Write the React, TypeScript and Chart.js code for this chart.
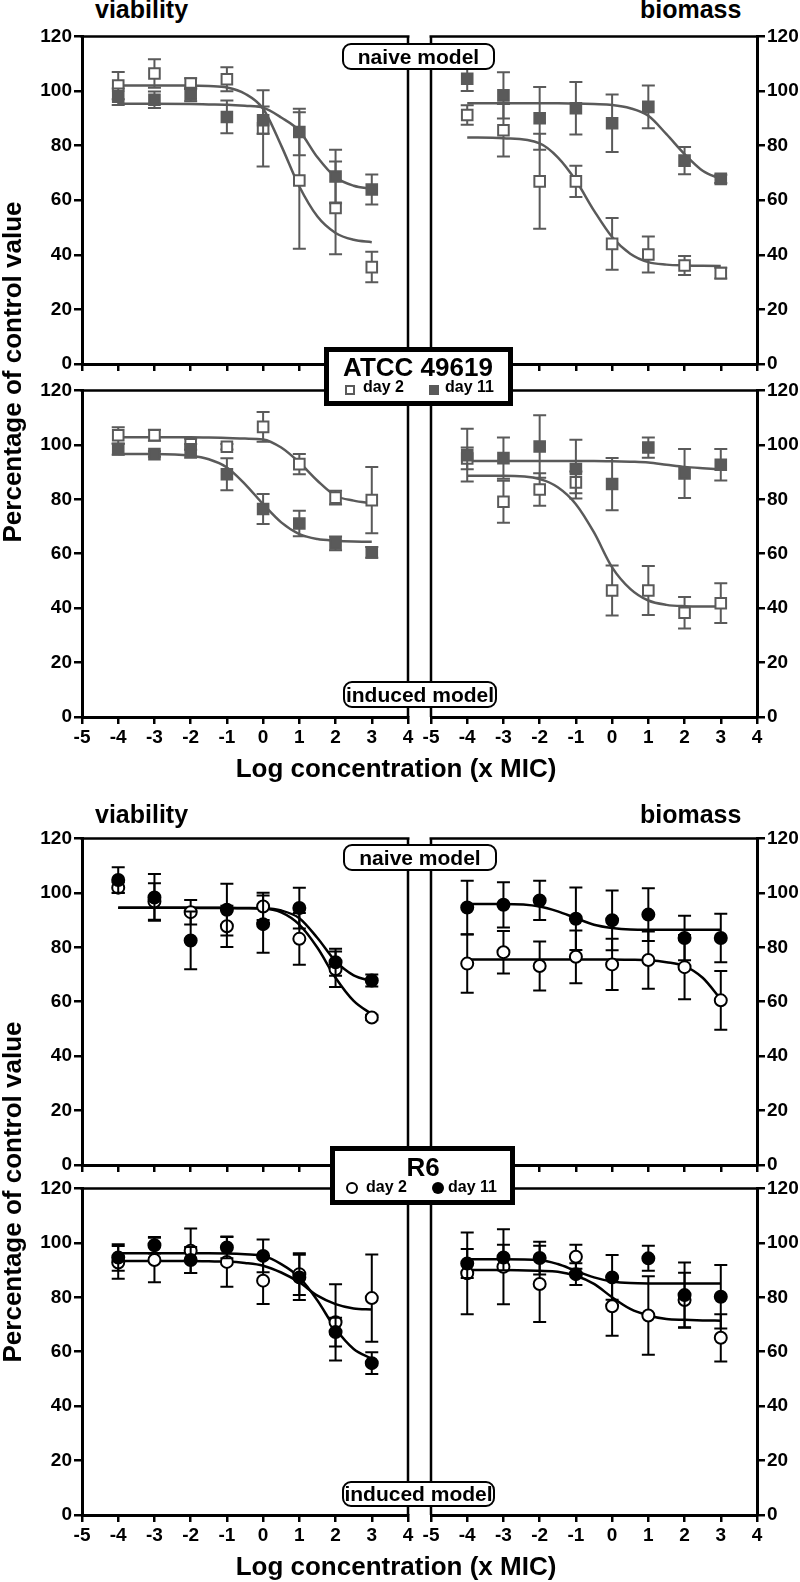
import React, { useEffect, useRef } from "react";
import { Chart, registerables } from "chart.js";

Chart.register(...registerables);

const FONT = "'Liberation Sans', Arial, Helvetica, sans-serif";

// concentrations (log x MIC) of the measured points
const doses = [-4, -3, -2, -1, 0, 1, 2, 3];
const curveX = [-4, -3, -2, -1.5, -1, -0.5, 0, 0.5, 1, 1.5, 2, 2.5, 3];

const xMin = -5;
const xMax = 4;
const yMin = 0;
const yMax = 120;
const yStep = 20;

const GREY = "#5a5a5a";
const BLACK = "#000000";

// ---------- ATCC 49619 ----------
// viability, naive model
const atccViaNaiveDay2 = [102, 106.4, 102.7, 104.3, 86.3, 67.2, 57.2, 35.5];
const atccViaNaiveDay2Err = [5, 5.2, 2, 4.4, 14, 25, 17, 5.6];
const atccViaNaiveDay11 = [97.9, 96.8, 98.7, 90.5, 89.3, 85, 68.7, 63.9];
const atccViaNaiveDay11Err = [3, 3, 2.5, 6, 5, 8.5, 9.8, 5.5];
const atccViaNaiveFit2 = [102, 102, 102, 101.8, 101.3, 99, 93.5, 80, 65, 54, 48, 45.5, 44.6];
const atccViaNaiveFit11 = [95.3, 95.3, 95.2, 95.1, 95, 94.6, 93.9, 90.3, 85.4, 75.7, 68.4, 65.3, 64.1];

// viability, induced model
const atccViaIndDay2 = [103.5, 103.5, 100.2, 99.3, 106.6, 92.9, 80.6, 79.7];
const atccViaIndDay2Err = [3, 2, 2, 1, 5.5, 3.7, 2.5, 12.2];
const atccViaIndDay11 = [98.4, 96.6, 97.8, 89.2, 76.4, 71.1, 63.8, 60.5];
const atccViaIndDay11Err = [2, 1, 2.5, 5.9, 5.5, 4.7, 2.5, 2];
const atccViaIndFit2 = [102.8, 102.8, 102.8, 102.7, 102.5, 102.3, 102, 99, 93.5, 86.8, 81.3, 79.5, 78.5];
const atccViaIndFit11 = [96.6, 96.6, 96, 94.7, 91.7, 85.6, 78.2, 71.5, 67.2, 65.4, 64.8, 64.5, 64.4];

// biomass, naive model
const atccBioNaiveDay2 = [91.2, 85.6, 66.9, 66.9, 44, 40.1, 36.1, 33.3];
const atccBioNaiveDay2Err = [3.6, 9.6, 17.4, 5.7, 9.5, 6.6, 3.5, 2];
const atccBioNaiveDay11 = [104.5, 98.4, 90, 93.7, 88.2, 94.2, 74.5, 67.8];
const atccBioNaiveDay11Err = [4.5, 8.5, 11.5, 9.6, 10.5, 7.8, 5, 1.5];
const atccBioNaiveFit2 = [83, 82.7, 80.8, 75.7, 67.2, 56.2, 46.5, 40.4, 37.3, 36.4, 36.1, 36, 35.9];
const atccBioNaiveFit11 = [95.5, 95.5, 95.5, 95.5, 95.4, 95.2, 94.9, 93.7, 90.9, 84.2, 76.9, 70.8, 67.8];

// biomass, induced model
const atccBioIndDay2 = [95, 79.1, 83.6, 86.2, 46.5, 46.5, 38.3, 41.8];
const atccBioIndDay2Err = [4, 7.7, 6, 4, 9.2, 9, 5.8, 7.3];
const atccBioIndDay11 = [96.2, 95.1, 99.4, 91.1, 85.6, 99, 89.5, 92.7];
const atccBioIndDay11Err = [9.7, 7.6, 11.5, 10.8, 9.6, 3.7, 9, 5.8];
const atccBioIndFit2 = [88.6, 88.6, 87.4, 84.4, 78.2, 67.8, 55, 47.1, 42.8, 41.2, 40.7, 40.6, 40.6];
const atccBioIndFit11 = [94.1, 94.1, 94.1, 94.1, 94.1, 94.1, 94, 93.8, 93.5, 92.7, 91.9, 91.4, 91];

// ---------- R6 ----------
// viability, naive model
const r6ViaNaiveDay2 = [101.9, 96.8, 92.9, 87.7, 95, 83.1, 71.9, 54.2];
const r6ViaNaiveDay2Err = [2, 6.7, 4.5, 7.6, 5, 9.5, 6.5, 1];
const r6ViaNaiveDay11 = [104.7, 98.3, 82.5, 93.8, 88.5, 94.4, 74.5, 67.8];
const r6ViaNaiveDay11Err = [4.7, 8.6, 10.6, 9.5, 10.5, 7.5, 5, 2.2];
const r6ViaNaiveFit2 = [94.5, 94.5, 94.5, 94.4, 94.4, 94.3, 94.2, 92.8, 88.3, 79.8, 68.8, 60.3, 55.4];
const r6ViaNaiveFit11 = [94.5, 94.5, 94.5, 94.5, 94.5, 94.4, 94.3, 93.5, 90.7, 83.4, 74.9, 69.7, 67.6];

// viability, induced model
const r6ViaIndDay2 = [92.8, 93.7, 97.1, 93, 86.1, 88.5, 70.8, 79.7];
const r6ViaIndDay2Err = [6, 8.2, 8.2, 9.1, 8.6, 7.7, 14, 16];
const r6ViaIndDay11 = [94.6, 99.1, 93.7, 98.3, 95.2, 87.3, 67.2, 55.8];
const r6ViaIndDay11Err = [4.9, 3, 4.8, 4, 6, 8.3, 5.3, 4];
const r6ViaIndFit2 = [93.3, 93.3, 93.3, 93.2, 93.1, 92.6, 91.6, 89.1, 85.5, 80.6, 77.5, 75.9, 75.5];
const r6ViaIndFit11 = [96.2, 96.2, 96.2, 96.2, 96.1, 95.8, 95.2, 92.2, 87.3, 78.8, 68.4, 61, 57.4];

// biomass, naive model
const r6BioNaiveDay2 = [74, 78.2, 73.1, 76.5, 73.7, 75.3, 72.7, 60.5];
const r6BioNaiveDay2Err = [10.7, 7.8, 9, 9.7, 9.4, 10.5, 11.8, 10.8];
const r6BioNaiveDay11 = [94.6, 95.6, 97.2, 90.5, 89.9, 92, 83.4, 83.4];
const r6BioNaiveDay11Err = [9.8, 8.3, 7.2, 11.5, 11, 9.7, 8.2, 8.9];
const r6BioNaiveFit2 = [75.5, 75.5, 75.5, 75.5, 75.5, 75.5, 75.5, 75.4, 75.2, 74.5, 73.1, 68.8, 60.9];
const r6BioNaiveFit11 = [95.9, 95.9, 95, 93.2, 90.7, 88.3, 87.1, 86.5, 86.4, 86.4, 86.4, 86.4, 86.4];

// biomass, induced model
const r6BioIndDay2 = [88.8, 91.2, 84.9, 94.9, 76.7, 73.3, 79, 65.1];
const r6BioIndDay2Err = [15, 13.8, 14, 4.4, 10.8, 14.4, 10, 8.7];
const r6BioIndDay11 = [92.4, 94.6, 94.4, 88.5, 87.3, 94.3, 80.8, 80.2];
const r6BioIndDay11Err = [5.3, 4.7, 6, 4, 8.2, 4.6, 12, 11.7];
const r6BioIndFit2 = [90, 90, 89.7, 89.4, 87.9, 84.9, 80, 75.7, 73.3, 72, 71.7, 71.5, 71.4];
const r6BioIndFit11 = [94, 94, 93.7, 92.2, 89.7, 87.3, 85.8, 85.2, 85.1, 85.1, 85.1, 85.1, 85.1];

type PanelProps = {
  side: "left" | "right";
  top: number;
  bottom: number;
  below: number;
  showX: boolean;
  color: string;
  marker: "rect" | "circle";
  d2: number[];
  e2: number[];
  d11: number[];
  e11: number[];
  f2: number[];
  f11: number[];
};

function Panel(p: PanelProps) {
  const ref = useRef<HTMLCanvasElement>(null);
  const isLeft = p.side === "left";
  const padTop = 12;
  const cLeft = isLeft ? 0 : 420;
  const cW = isLeft ? 420 : 380;
  const cTop = p.top - padTop;
  const cH = p.bottom - p.top + padTop + p.below;

  useEffect(() => {
    if (!ref.current) return;
    const frame = {
      id: "frame",
      afterDraw(chart: any) {
        const { ctx, chartArea: a } = chart;
        ctx.save();
        ctx.strokeStyle = "#000";
        ctx.lineWidth = 2.5;
        ctx.beginPath();
        ctx.moveTo(a.left - 1.5, a.top);
        ctx.lineTo(a.right + 1.5, a.top);
        const sx = isLeft ? a.right : a.left;
        ctx.moveTo(sx, a.top - 1.2);
        ctx.lineTo(sx, p.showX ? a.bottom : chart.height);
        ctx.stroke();
        ctx.restore();
      },
    };
    const errs = {
      id: "errs",
      beforeDatasetDraw(chart: any, args: any) {
        const ds: any = chart.data.datasets[args.index];
        if (!ds.errors) return;
        const xs = chart.scales.x;
        const ys = chart.scales.y;
        const ctx = chart.ctx;
        ctx.save();
        ctx.strokeStyle = ds.borderColor;
        ctx.lineWidth = 2;
        ds.data.forEach((pt: any, i: number) => {
          const e = ds.errors[i];
          if (!e) return;
          const px = xs.getPixelForValue(pt.x);
          const yt = ys.getPixelForValue(pt.y + e);
          const yb = ys.getPixelForValue(pt.y - e);
          ctx.beginPath();
          ctx.moveTo(px, yt);
          ctx.lineTo(px, yb);
          ctx.moveTo(px - 6.5, yt);
          ctx.lineTo(px + 6.5, yt);
          ctx.moveTo(px - 6.5, yb);
          ctx.lineTo(px + 6.5, yb);
          ctx.stroke();
        });
        ctx.restore();
      },
    };
    const radius = p.marker === "rect" ? 7.5 : 6;
    const tickFont = { family: FONT, size: 19, weight: "bold" as const };
    const chart = new Chart(ref.current, {
      type: "line",
      data: {
        datasets: [
          {
            data: curveX.map((x, i) => ({ x, y: p.f2[i] })),
            borderColor: p.color,
            borderWidth: 2.5,
            pointRadius: 0,
            cubicInterpolationMode: "monotone",
            fill: false,
            order: 3,
          },
          {
            data: curveX.map((x, i) => ({ x, y: p.f11[i] })),
            borderColor: p.color,
            borderWidth: 2.5,
            pointRadius: 0,
            cubicInterpolationMode: "monotone",
            fill: false,
            order: 3,
          },
          {
            data: doses.map((x, i) => ({ x, y: p.d2[i] })),
            showLine: false,
            pointStyle: p.marker,
            pointRadius: radius,
            backgroundColor: "#ffffff",
            borderColor: p.color,
            borderWidth: 2,
            errors: p.e2,
            order: 1,
          } as any,
          {
            data: doses.map((x, i) => ({ x, y: p.d11[i] })),
            showLine: false,
            pointStyle: p.marker,
            pointRadius: radius,
            backgroundColor: p.color,
            borderColor: p.color,
            borderWidth: 2,
            errors: p.e11,
            order: 0,
          } as any,
        ],
      },
      options: {
        animation: false,
        responsive: false,
        devicePixelRatio: 1,
        events: [],
        layout: {
          padding: { top: padTop, bottom: 0, left: isLeft ? 0 : 11, right: isLeft ? 12 : 0 },
        },
        plugins: {
          legend: { display: false },
          tooltip: { enabled: false },
        },
        scales: {
          x: {
            type: "linear",
            min: xMin,
            max: xMax,
            position: "bottom",
            afterFit: (s: any) => {
              s.height = p.below;
            },
            ticks: {
              stepSize: 1,
              display: p.showX,
              color: "#000",
              font: tickFont,
              padding: 2,
              maxRotation: 0,
              autoSkip: false,
              callback: (v: any) => String(v),
            },
            grid: { drawOnChartArea: false, drawTicks: true, tickLength: 7, color: "#000", lineWidth: 2.5 },
            border: { display: true, color: "#000", width: 3 },
          },
          y: {
            type: "linear",
            min: yMin,
            max: yMax,
            position: isLeft ? "left" : "right",
            afterFit: (s: any) => {
              s.width = isLeft ? 82 : 43;
            },
            ticks: {
              stepSize: yStep,
              color: "#000",
              font: tickFont,
              padding: 2,
              callback: (v: any) => String(v),
            },
            grid: { drawOnChartArea: false, drawTicks: true, tickLength: 8, color: "#000", lineWidth: 2.5 },
            border: { display: true, color: "#000", width: 3 },
          },
        },
      } as any,
      plugins: [frame, errs],
    });
    return () => chart.destroy();
  }, []);

  return (
    <canvas
      ref={ref}
      width={cW}
      height={cH}
      style={{ position: "absolute", left: cLeft, top: cTop, width: cW, height: cH }}
    />
  );
}

function Txt(props: { x: number; baseline: number; size: number; center?: boolean; children: React.ReactNode }) {
  const top = props.baseline - 0.8465 * props.size;
  const style: React.CSSProperties = {
    position: "absolute",
    top,
    fontSize: props.size,
    lineHeight: props.size + "px",
    fontWeight: "bold",
    whiteSpace: "nowrap",
    fontFamily: FONT,
  };
  if (props.center) {
    style.left = props.x - 300;
    style.width = 600;
    style.textAlign = "center";
  } else {
    style.left = props.x;
  }
  return <div style={style}>{props.children}</div>;
}

function ModelBox(props: { left: number; top: number; w: number; h: number; label: string }) {
  return (
    <div
      style={{
        position: "absolute",
        left: props.left,
        top: props.top,
        width: props.w,
        height: props.h,
        boxSizing: "border-box",
        border: "2px solid #000",
        borderRadius: 9,
        background: "#fff",
        textAlign: "center",
        fontFamily: FONT,
        fontWeight: "bold",
        fontSize: 21,
        lineHeight: props.h - 4 + "px",
        whiteSpace: "nowrap",
      }}
    >
      {props.label}
    </div>
  );
}

function YTitle(props: { cx: number; cy: number }) {
  const w = 420;
  const fs = 26;
  return (
    <div
      style={{
        position: "absolute",
        left: props.cx - w / 2,
        top: props.cy - fs / 2,
        width: w,
        height: fs,
        lineHeight: fs + "px",
        fontSize: fs,
        fontWeight: "bold",
        fontFamily: FONT,
        textAlign: "center",
        whiteSpace: "nowrap",
        transform: "rotate(-90deg)",
        transformOrigin: "50% 50%",
      }}
    >
      Percentage of control value
    </div>
  );
}

export default function App() {
  return (
    <div
      style={{
        position: "absolute",
        left: 0,
        top: 0,
        width: 800,
        height: 1582,
        background: "#fff",
        overflow: "hidden",
        color: "#000",
        fontFamily: FONT,
      }}
    >
      {/* ATCC 49619 block */}
      <Panel side="left" top={35} bottom={364} below={25} showX={false} color={GREY} marker="rect"
        d2={atccViaNaiveDay2} e2={atccViaNaiveDay2Err} d11={atccViaNaiveDay11} e11={atccViaNaiveDay11Err}
        f2={atccViaNaiveFit2} f11={atccViaNaiveFit11} />
      <Panel side="right" top={35} bottom={364} below={25} showX={false} color={GREY} marker="rect"
        d2={atccBioNaiveDay2} e2={atccBioNaiveDay2Err} d11={atccBioNaiveDay11} e11={atccBioNaiveDay11Err}
        f2={atccBioNaiveFit2} f11={atccBioNaiveFit11} />
      <Panel side="left" top={389} bottom={717} below={40} showX={true} color={GREY} marker="rect"
        d2={atccViaIndDay2} e2={atccViaIndDay2Err} d11={atccViaIndDay11} e11={atccViaIndDay11Err}
        f2={atccViaIndFit2} f11={atccViaIndFit11} />
      <Panel side="right" top={389} bottom={717} below={40} showX={true} color={GREY} marker="rect"
        d2={atccBioIndDay2} e2={atccBioIndDay2Err} d11={atccBioIndDay11} e11={atccBioIndDay11Err}
        f2={atccBioIndFit2} f11={atccBioIndFit11} />

      {/* R6 block */}
      <Panel side="left" top={837} bottom={1165} below={22} showX={false} color={BLACK} marker="circle"
        d2={r6ViaNaiveDay2} e2={r6ViaNaiveDay2Err} d11={r6ViaNaiveDay11} e11={r6ViaNaiveDay11Err}
        f2={r6ViaNaiveFit2} f11={r6ViaNaiveFit11} />
      <Panel side="right" top={837} bottom={1165} below={22} showX={false} color={BLACK} marker="circle"
        d2={r6BioNaiveDay2} e2={r6BioNaiveDay2Err} d11={r6BioNaiveDay11} e11={r6BioNaiveDay11Err}
        f2={r6BioNaiveFit2} f11={r6BioNaiveFit11} />
      <Panel side="left" top={1187} bottom={1515} below={40} showX={true} color={BLACK} marker="circle"
        d2={r6ViaIndDay2} e2={r6ViaIndDay2Err} d11={r6ViaIndDay11} e11={r6ViaIndDay11Err}
        f2={r6ViaIndFit2} f11={r6ViaIndFit11} />
      <Panel side="right" top={1187} bottom={1515} below={40} showX={true} color={BLACK} marker="circle"
        d2={r6BioIndDay2} e2={r6BioIndDay2Err} d11={r6BioIndDay11} e11={r6BioIndDay11Err}
        f2={r6BioIndFit2} f11={r6BioIndFit11} />

      {/* titles */}
      <Txt x={95} baseline={18} size={25}>viability</Txt>
      <Txt x={640} baseline={18} size={25}>biomass</Txt>
      <Txt x={95} baseline={823} size={25}>viability</Txt>
      <Txt x={640} baseline={823} size={25}>biomass</Txt>
      <Txt x={396} baseline={777} size={26} center>Log concentration (x MIC)</Txt>
      <Txt x={396} baseline={1575} size={26} center>Log concentration (x MIC)</Txt>
      <YTitle cx={12} cy={372} />
      <YTitle cx={12} cy={1192} />

      {/* model boxes */}
      <ModelBox left={342} top={43} w={153} h={27} label="naive model" />
      <ModelBox left={343} top={681} w={154} h={27} label="induced model" />
      <ModelBox left={343} top={844} w={154} h={27} label="naive model" />
      <ModelBox left={342} top={1481} w={153} h={26} label="induced model" />

      {/* ATCC legend */}
      <div style={{ position: "absolute", left: 324, top: 347, width: 189, height: 59, boxSizing: "border-box", border: "5px solid #000", background: "#fff" }} />
      <Txt x={418} baseline={376} size={26} center>ATCC 49619</Txt>
      <div style={{ position: "absolute", left: 345, top: 385, width: 10, height: 10, boxSizing: "border-box", border: "2px solid " + GREY, background: "#fff" }} />
      <Txt x={363} baseline={393} size={16}>day 2</Txt>
      <div style={{ position: "absolute", left: 429, top: 385, width: 10, height: 10, background: GREY }} />
      <Txt x={445} baseline={393} size={16}>day 11</Txt>

      {/* R6 legend */}
      <div style={{ position: "absolute", left: 330, top: 1146, width: 185, height: 59, boxSizing: "border-box", border: "5px solid #000", background: "#fff" }} />
      <Txt x={423} baseline={1176} size={26} center>R6</Txt>
      <div style={{ position: "absolute", left: 346, top: 1182, width: 12, height: 12, boxSizing: "border-box", border: "2px solid #000", borderRadius: "50%", background: "#fff" }} />
      <Txt x={366} baseline={1193} size={16}>day 2</Txt>
      <div style={{ position: "absolute", left: 432, top: 1182, width: 12, height: 12, borderRadius: "50%", background: "#000" }} />
      <Txt x={448} baseline={1193} size={16}>day 11</Txt>
    </div>
  );
}
